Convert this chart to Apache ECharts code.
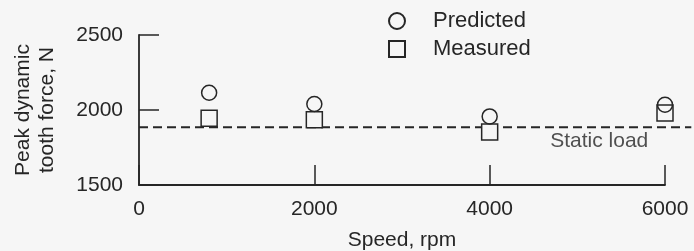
<!DOCTYPE HTML>
<html>
	<head>
		<meta http-equiv="Content-type" content="text/html; charset=UTF-8" />
		<script type="text/javascript" src="https://cdn.jsdelivr.net/npm/echarts@6/dist/echarts.min.js"></script>
		<style>
			html, body { margin: 0; padding: 0; background: #f6f6f6; }
		</style>
		<script type="text/javascript">
			// values
			var speeds = [800, 2000, 4000, 6000];
			var predicted = [2115, 2040, 1957, 2035];
			var measured = [1945, 1935, 1853, 1980];
			var staticLoad = 1885;
			var staticLineX = [0, 6300];
			var staticLabelX = 5250;
			var xTicks = [0, 6000, 2000];
			var yTicks = [1500, 2500, 500];

			var ink = '#262626';
			var font = 'Liberation Sans';

			function pairs(xs, ys) {
				var out = [];
				for (var i = 0; i < xs.length; i++) out.push([xs[i], ys[i]]);
				return out;
			}

			var option = {
				backgroundColor: '#f6f6f6',
				animation: false,
				textStyle: { fontFamily: font, color: ink },
				grid: { left: 139, right: 29, top: 35, bottom: 66, outerBoundsMode: 'none' },
				legend: {
					orient: 'vertical',
					left: 388,
					top: 10,
					padding: 0,
					itemGap: 6,
					itemWidth: 16,
					itemHeight: 16,
					textStyle: { fontSize: 22, color: ink, fontFamily: font, lineHeight: 20, padding: [0, 0, 0, 23] },
					data: ['Predicted', 'Measured']
				},
				xAxis: {
					type: 'value',
					min: xTicks[0], max: xTicks[1], interval: xTicks[2],
					name: 'Speed, rpm',
					nameLocation: 'middle',
					nameGap: 45,
					nameTextStyle: { fontSize: 21, color: ink },
					axisLine: { show: true, onZero: false, lineStyle: { color: ink, width: 1.8 } },
					axisTick: { show: true, inside: true, length: 20, lineStyle: { color: ink, width: 1.5 } },
					axisLabel: { fontSize: 21, color: ink, margin: 14, formatter: function (v) { return String(v); } },
					splitLine: { show: false }
				},
				yAxis: {
					type: 'value',
					min: yTicks[0], max: yTicks[1], interval: yTicks[2],
					name: 'Peak dynamic\ntooth force, N',
					nameLocation: 'middle',
					nameRotate: 90,
					nameGap: 80,
					nameTextStyle: { fontSize: 21, color: ink, lineHeight: 24 },
					axisLine: { show: true, onZero: false, lineStyle: { color: ink, width: 1.8 } },
					axisTick: { show: true, inside: true, length: 20, lineStyle: { color: ink, width: 1.5 } },
					axisLabel: { fontSize: 21, color: ink, margin: 16, formatter: function (v) { return String(v); } },
					splitLine: { show: false }
				},
				series: [
					{
						type: 'scatter',
						clip: false,
						symbolSize: 0,
						silent: true,
						data: [[staticLabelX, staticLoad]],
						label: {
							show: true,
							position: 'bottom',
							distance: 3,
							formatter: 'Static load',
							fontSize: 21,
							color: ink,
							fontFamily: font
						}
					},
					{
						name: 'Measured',
						type: 'scatter',
						symbol: 'rect',
						symbolSize: 16,
						data: pairs(speeds, measured),
						itemStyle: { color: '#f6f6f6', borderColor: ink, borderWidth: 1.5, opacity: 1 },
						z: 3
					},
					{
						name: 'Predicted',
						type: 'scatter',
						symbol: 'circle',
						symbolSize: 15,
						data: pairs(speeds, predicted),
						itemStyle: { color: 'rgba(0,0,0,0)', borderColor: ink, borderWidth: 1.5, opacity: 1 },
						z: 4
					}
				]
			};

			window.onload = function () {
				var myChart = echarts.init(document.getElementById('div_1'));
				myChart.setOption(option);
				// static load line runs past the end of the axis; extend it with the axis scale
				var a = myChart.convertToPixel({ gridIndex: 0 }, [xTicks[0], staticLoad]);
				var b = myChart.convertToPixel({ gridIndex: 0 }, [xTicks[1], staticLoad]);
				var pxPerUnit = (b[0] - a[0]) / (xTicks[1] - xTicks[0]);
				var x1 = a[0] + (staticLineX[0] - xTicks[0]) * pxPerUnit;
				var x2 = a[0] + (staticLineX[1] - xTicks[0]) * pxPerUnit;
				myChart.setOption({
					graphic: [{
						type: 'line',
						z: 1,
						silent: true,
						shape: { x1: x1, y1: a[1], x2: x2, y2: a[1] },
						style: { stroke: ink, lineWidth: 2, lineDash: [9, 5] }
					}]
				});
			};
		</script>
	</head>
	<body>
		<div id="div_1" style="width: 694px;height:251px;"></div>
	</body>
</html>
